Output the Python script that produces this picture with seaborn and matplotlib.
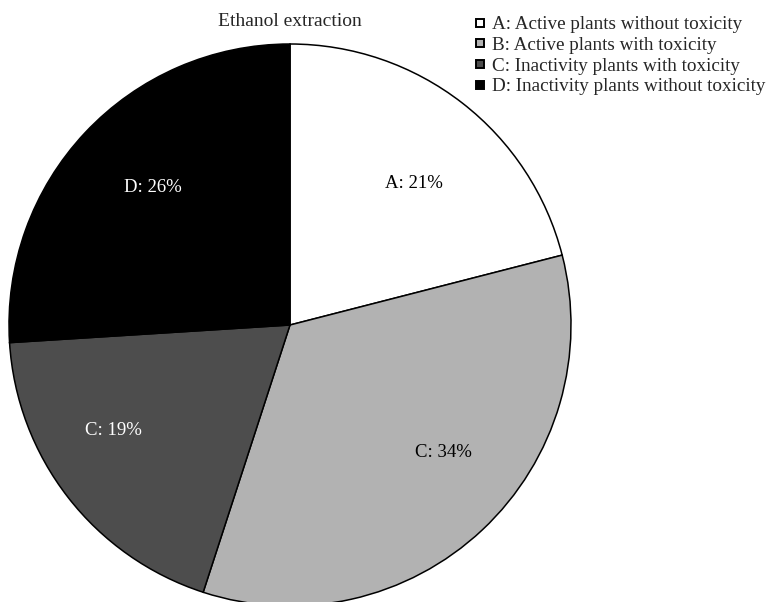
import matplotlib
matplotlib.use("Agg")
import numpy as np
import matplotlib.pyplot as plt
from matplotlib.lines import Line2D
import seaborn as sns

# Share of screened plants per group (ethanol extracts)
groups = ["A", "B", "C", "D"]
legend_labels = [
    "A: Active plants without toxicity",
    "B: Active plants with toxicity",
    "C: Inactivity plants with toxicity",
    "D: Inactivity plants without toxicity",
]
shares = [21, 34, 19, 26]
slice_tags = ["A", "C", "C", "D"]
slice_colors = ["#ffffff", "#b2b2b2", "#4d4d4d", "#000000"]
text_colors = ["black", "black", "white", "white"]

# Per-slice label placement: radial fraction and angular nudge (degrees)
label_radius = [0.67, 0.71, 0.73, 0.69]
label_nudge = [-3.5, 7.0, -7.0, -1.8]

sns.set_style("white")
plt.rcParams["font.family"] = ["Liberation Serif", "DejaVu Serif"]

W, H = 771, 602
fig = plt.figure(figsize=(W / 100, H / 100), dpi=100)

cx, cy, r = 290, 325, 281
ax = fig.add_axes([(cx - r) / W, (H - cy - r) / H, 2 * r / W, 2 * r / H])

tag_iter = iter(slice_tags)
wedges, _, autotexts = ax.pie(
    shares,
    colors=slice_colors,
    startangle=90,
    counterclock=False,
    radius=1.0,
    autopct=lambda p: f"{next(tag_iter)}: {p:.0f}%",
    pctdistance=0.7,
    wedgeprops=dict(edgecolor="black", linewidth=1.1),
    textprops=dict(fontsize=13.5),
)
for w, t, c, rf, nd in zip(wedges, autotexts, text_colors, label_radius, label_nudge):
    mid = np.deg2rad((w.theta1 + w.theta2) / 2 + nd)
    t.set_position((rf * np.cos(mid), rf * np.sin(mid)))
    t.set_color(c)
ax.set_xlim(-1, 1)
ax.set_ylim(-1, 1)
ax.set_axis_off()

fig.text(cx / W, 1 - 22 / H, "Ethanol extraction", ha="center", va="center",
         fontsize=14)

handles = [
    Line2D([], [], linestyle="none", marker="s", markersize=5.5,
           markerfacecolor=c, markeredgecolor="black", markeredgewidth=1.4)
    for c in slice_colors
]
fig.legend(
    handles, legend_labels,
    loc="upper left", bbox_to_anchor=(474 / W, 1 - 16 / H),
    frameon=False, fontsize=13.8, handlelength=0.6, handletextpad=0.35,
    labelspacing=0.17, borderpad=0, borderaxespad=0,
)

fig.savefig("out.png", dpi=100)
